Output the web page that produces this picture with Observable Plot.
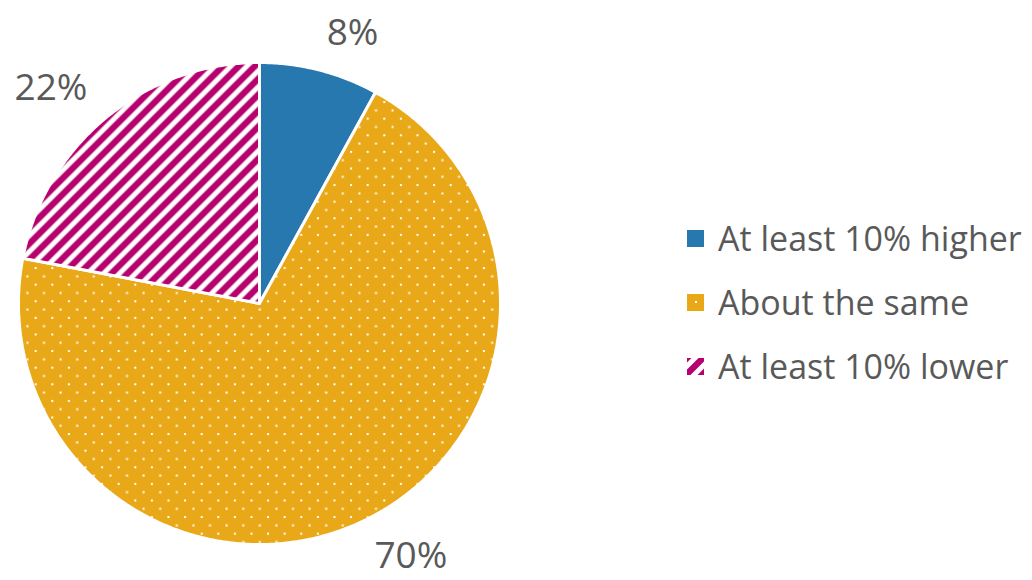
<!DOCTYPE html>
<html>
<head>
<meta charset="utf-8">
<script src="https://cdn.jsdelivr.net/npm/d3@7"></script>
<script src="https://cdn.jsdelivr.net/npm/@observablehq/plot@0.6"></script>
<style>
  html, body { margin: 0; padding: 0; background: #fff; }
  #wrap { position: relative; width: 1032px; height: 580px; overflow: hidden; font-family: "Open Sans", sans-serif; }
  #legend { position: absolute; left: 687px; top: 206px; }
  .row { display: flex; align-items: center; height: 64px; }
  .row svg { display: block; flex: none; }
  .row span { margin-left: 14px; font-size: 34px; color: #595959; white-space: nowrap; line-height: 1; }
</style>
</head>
<body>
<svg width="0" height="0" style="position:absolute">
  <defs>
    <pattern id="dots" patternUnits="userSpaceOnUse" width="16.6" height="16.6">
      <rect width="16.6" height="16.6" fill="#E8A817"></rect>
      <rect x="1" y="1" width="2" height="2" fill="#fff"></rect>
      <rect x="9.3" y="9.3" width="2" height="2" fill="#fff"></rect>
    </pattern>
    <pattern id="dotsLegend" patternUnits="userSpaceOnUse" width="17" height="17">
      <rect width="17" height="17" fill="#E8A817"></rect>
      <rect x="8" y="7" width="2" height="2" fill="#fff"></rect>
    </pattern>
    <pattern id="stripes" patternUnits="userSpaceOnUse" width="16" height="16">
      <rect width="16" height="16" fill="#fff"></rect>
      <path d="M0,16 L16,0 M-8,8 L8,-8 M8,24 L24,8" stroke="#B5006E" stroke-width="6.3"></path>
    </pattern>
  </defs>
</svg>
<div id="wrap">
  <div id="chart"></div>
  <div id="legend"></div>
</div>
<script>
// ---- data ----
const categories = ["At least 10% higher", "About the same", "At least 10% lower"];
const values = [8, 70, 22];
const labels = ["8%", "70%", "22%"];

// ---- styles ----
const fills = ["#2878B0", "url(#dots)", "url(#stripes)"];
const legendFills = ["#2878B0", "url(#dotsLegend)", "url(#stripes)"];
const textColor = "#595959";

// layout: pie center (259, 303), radius 241 px in a 1032x580 frame
const W = 1032, H = 580, cx = 259, cy = 303, R = 241;

const arcs = d3.pie().sort(null)(values);
const step = Math.PI / 360;
const slices = arcs.map(a => {
  const pts = [{u: 0, v: 0}];
  const n = Math.max(2, Math.ceil((a.endAngle - a.startAngle) / step));
  for (let k = 0; k <= n; k++) {
    const t = a.startAngle + (a.endAngle - a.startAngle) * k / n;
    pts.push({u: Math.sin(t), v: Math.cos(t)});
  }
  pts.push({u: 0, v: 0});
  return pts;
});

const labelData = arcs.map((a, i) => {
  const m = (a.startAngle + a.endAngle) / 2;
  return {u: 1.12 * Math.sin(m), v: 1.16 * Math.cos(m), text: labels[i]};
});

const chart = Plot.plot({
  width: W,
  height: H,
  margin: 0,
  style: {fontFamily: "'Open Sans', sans-serif", background: "transparent"},
  x: {domain: [-cx / R, (W - cx) / R], axis: null},
  y: {domain: [-(H - cy) / R, cy / R], axis: null},
  marks: [
    ...slices.map((pts, i) => Plot.line(pts, {
      x: "u", y: "v", fill: fills[i], stroke: "white", strokeWidth: 3, strokeLinejoin: "miter", curve: "linear"
    })),
    Plot.text(labelData.filter(d => d.u >= 0), {x: "u", y: "v", text: "text", textAnchor: "start", fontSize: 37, fill: textColor, lineAnchor: "middle"}),
    Plot.text(labelData.filter(d => d.u < 0), {x: "u", y: "v", text: "text", textAnchor: "end", fontSize: 37, fill: textColor, lineAnchor: "middle"})
  ]
});
document.getElementById("chart").appendChild(chart);

const legend = document.getElementById("legend");
categories.forEach((c, i) => {
  const row = document.createElement("div");
  row.className = "row";
  row.innerHTML = `<svg width="17" height="17"><rect width="17" height="17" fill="${legendFills[i]}"></rect></svg><span>${c}</span>`;
  legend.appendChild(row);
});
</script>
</body>
</html>
